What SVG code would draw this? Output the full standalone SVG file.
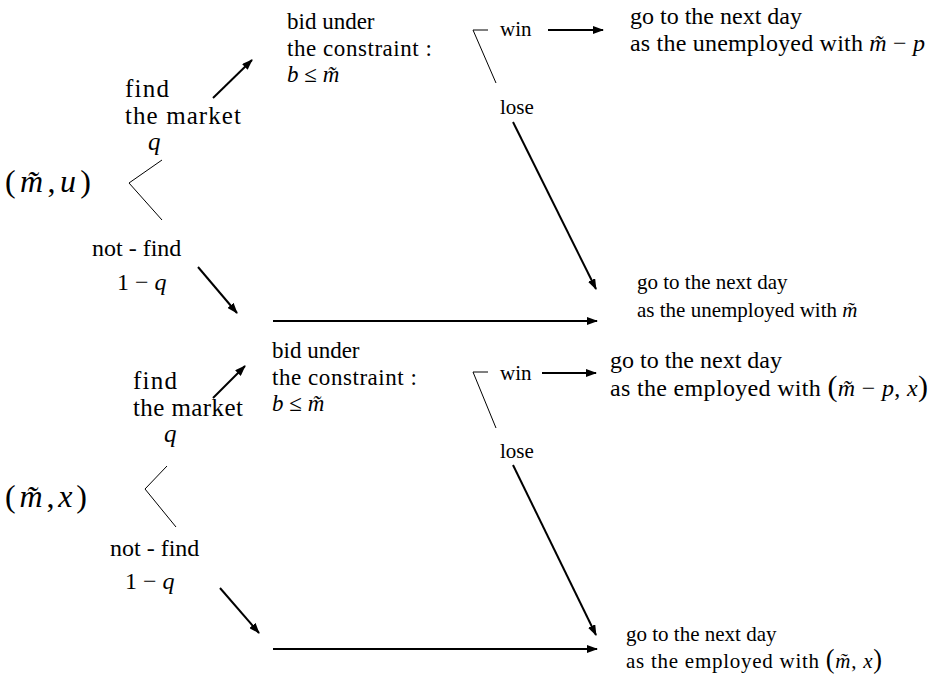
<svg xmlns="http://www.w3.org/2000/svg" width="941" height="680" viewBox="0 0 941 680" font-family="Liberation Serif, Times New Roman, serif">
<defs>
<marker id="ah" markerUnits="userSpaceOnUse" markerWidth="11" markerHeight="8" refX="10" refY="4" orient="auto">
<path d="M0,0 L11,4 L0,8 Z" fill="#000"/>
</marker>
<style>
text{font-family:"Liberation Serif","Times New Roman",serif;fill:#000}
.i{font-style:italic}
.p{font-size:1.25em}
.s21{font-size:21px}.s23{font-size:23px}.s24{font-size:24px}.s25{font-size:25px}.s32{font-size:32px}
.thin{stroke:#000;stroke-width:1;fill:none}
.arr{stroke:#000;stroke-width:2;fill:none;marker-end:url(#ah)}
</style>
</defs>
<rect width="941" height="680" fill="#fff"/>
<g id="connectors">
<polyline class="thin" points="162,160 129,183 162,220"/>
<line class="arr" x1="213" y1="98" x2="252" y2="60"/>
<line class="arr" x1="198" y1="267" x2="237" y2="313"/>
<line class="arr" x1="273" y1="321" x2="597" y2="321"/>
<polyline class="thin" points="488,30 473,30 496,83"/>
<line class="arr" x1="548" y1="30" x2="603" y2="30"/>
<line class="arr" x1="513" y1="122" x2="596" y2="289"/>
<line class="arr" x1="213" y1="398" x2="245" y2="366"/>
<polyline class="thin" points="167,466 145,489 176,527"/>
<line class="arr" x1="220" y1="588" x2="259" y2="633"/>
<line class="arr" x1="273" y1="649" x2="597" y2="649"/>
<polyline class="thin" points="488,372 473,372 496,428"/>
<line class="arr" x1="542" y1="373" x2="596" y2="373"/>
<line class="arr" x1="513" y1="465" x2="596" y2="635"/>
</g>
<g id="state-u">
<text class="s32" x="5" y="192" textLength="86" lengthAdjust="spacing">(<tspan class="i">m̃</tspan>,<tspan class="i">u</tspan>)</text>
</g>
<g id="find-u">
<text class="s25" x="125" y="97" textLength="44" lengthAdjust="spacing">find</text>
<text class="s25" x="125" y="124" textLength="116" lengthAdjust="spacing">the market</text>
<text class="s25 i" x="148" y="150">q</text>
</g>
<g id="notfind-u">
<text class="s24" x="92" y="256">not - find</text>
<text class="s24" x="117" y="290">1 − <tspan class="i">q</tspan></text>
</g>
<g id="bid-u">
<text class="s23" x="287" y="29">bid under</text>
<text class="s23" x="287" y="56" textLength="145" lengthAdjust="spacing">the constraint :</text>
<text class="s23" x="287" y="82"><tspan class="i">b</tspan> ≤ <tspan class="i">m̃</tspan></text>
</g>
<g id="win-u"><text class="s21" x="500" y="36">win</text></g>
<g id="lose-u"><text class="s21" x="500" y="114">lose</text></g>
<g id="out-u-win">
<text class="s24" x="630" y="24">go to the next day</text>
<text class="s24" x="630" y="51" textLength="295" lengthAdjust="spacing">as the unemployed with <tspan class="i">m̃</tspan> − <tspan class="i">p</tspan></text>
</g>
<g id="out-u-lose">
<text class="s21" x="637" y="289">go to the next day</text>
<text class="s21" x="637" y="317">as the unemployed with <tspan class="i">m̃</tspan></text>
</g>
<g id="state-x">
<text class="s32" x="5" y="507" textLength="82" lengthAdjust="spacing">(<tspan class="i">m̃</tspan>,<tspan class="i">x</tspan>)</text>
</g>
<g id="find-x">
<text class="s25" x="133" y="389" textLength="44" lengthAdjust="spacing">find</text>
<text class="s25" x="133" y="416" textLength="110" lengthAdjust="spacing">the market</text>
<text class="s25 i" x="164" y="442">q</text>
</g>
<g id="notfind-x">
<text class="s24" x="110" y="556">not - find</text>
<text class="s24" x="125" y="589">1 − <tspan class="i">q</tspan></text>
</g>
<g id="bid-x">
<text class="s23" x="272" y="358">bid under</text>
<text class="s23" x="272" y="385" textLength="145" lengthAdjust="spacing">the constraint :</text>
<text class="s23" x="272" y="411"><tspan class="i">b</tspan> ≤ <tspan class="i">m̃</tspan></text>
</g>
<g id="win-x"><text class="s21" x="500" y="380">win</text></g>
<g id="lose-x"><text class="s21" x="500" y="458">lose</text></g>
<g id="out-x-win">
<text class="s24" x="610" y="368">go to the next day</text>
<text class="s24" x="610" y="396" textLength="318" lengthAdjust="spacing">as the employed with <tspan class="p">(</tspan><tspan class="i">m̃</tspan> − <tspan class="i">p</tspan>, <tspan class="i">x</tspan><tspan class="p">)</tspan></text>
</g>
<g id="out-x-lose">
<text class="s21" x="626" y="641">go to the next day</text>
<text class="s21" x="626" y="668" textLength="256" lengthAdjust="spacing">as the employed with <tspan class="p">(</tspan><tspan class="i">m̃</tspan>, <tspan class="i">x</tspan><tspan class="p">)</tspan></text>
</g>
</svg>
